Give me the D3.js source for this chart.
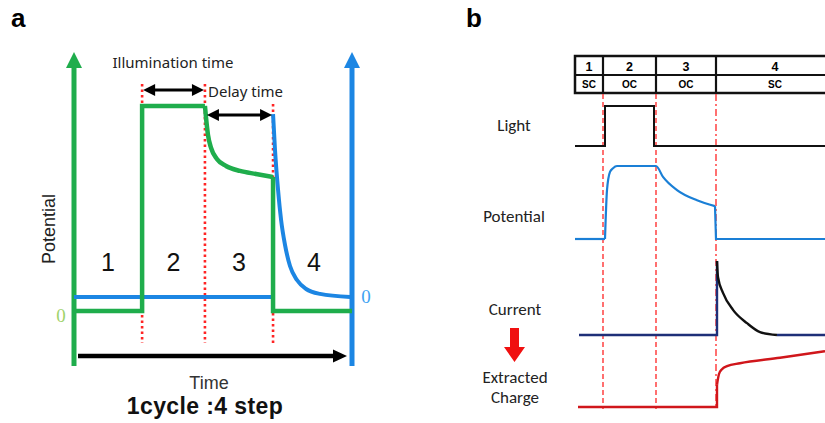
<!DOCTYPE html>
<html>
<head>
<meta charset="utf-8">
<script src="https://cdn.jsdelivr.net/npm/d3@7"></script>
<style>
  html, body { margin: 0; padding: 0; background: #fff; }
  svg { display: block; }
</style>
</head>
<body>
<svg id="fig" width="825" height="423"></svg>
<script>
// ---------- Panel a: one measurement cycle (time 0–100, potential in % of full scale) ----------
const stepLabels = ["1", "2", "3", "4"];
const cycleBounds = [24.5, 47.1, 71.6];          // ends of steps 1–3
const greenSteps = [[0, 0], [24.5, 0], [24.5, 79.5], [47.1, 79.5]];
const greenDecay = [[47.1, 79.5], [47.5, 74.8], [48.2, 68.2], [49.3, 63.2], [51.4, 58.9],
                    [54.7, 56.2], [59.7, 54.3], [65.5, 53.1], [71.6, 51.9]];
const greenTail = [[71.6, 51.9], [71.6, 0], [100, 0]];
const blueFlat = [[0, 0], [71.6, 0]];
const blueDecay = [[71.6, 70.9], [72.3, 57], [73.4, 41.5], [74.5, 29.8], [75.9, 20.2],
                   [77.7, 12], [80.2, 6.6], [83.5, 3.1], [88.5, 1.2], [99.3, 0]];

// ---------- Panel b: timing diagram (time 0–100, each trace normalised 0–1) ----------
const phaseBounds = [11.2, 32.4, 56.4];
const phaseNumbers = ["1", "2", "3", "4"];
const phaseModes = ["SC", "OC", "OC", "SC"];
const lightTrace = [[0, 0], [12, 0], [12, 1], [31.6, 1], [31.6, 0], [100, 0]];
const potBase = [[0, 0], [12, 0]];
const potCurve = [[12, 0], [12.8, 0.67], [14, 0.92], [15.2, 0.97], [16.8, 1], [32.4, 1],
                  [35.2, 0.85], [40.8, 0.67], [48.8, 0.53], [56, 0.45]];
const potTail = [[56, 0.45], [56.4, 0], [100, 0]];
const currentBase = [[1.6, 0], [56.8, 0], [56.8, 1]];
const currentDecay = [[56.8, 1], [57.2, 0.78], [59.2, 0.57], [63.2, 0.34], [68.8, 0.16],
                      [74, 0.04], [80.8, 0]];
const currentTail = [[80.8, 0], [100, 0]];
const chargeBase = [[1.2, 0], [56.8, 0], [56.8, 0.37]];
const chargeRise = [[56.8, 0.37], [57.6, 0.55], [58.8, 0.63], [60.8, 0.68], [66, 0.73],
                    [82, 0.82], [100, 0.93]];

const svg = d3.select("#fig");
const SANS = "Arial, 'Liberation Sans', sans-serif";
const GREEN = "#1fad4c", BLUE = "#1c86e3", RED = "#ff2424";

function trace(g, pts, x, y, curve, color, width) {
  g.append("path")
    .attr("d", d3.line().x(d => x(d[0])).y(d => y(d[1])).curve(curve)(pts))
    .attr("fill", "none").attr("stroke", color).attr("stroke-width", width)
    .attr("stroke-linejoin", "miter").attr("stroke-linecap", "butt");
}

// ===================== Panel a =====================
const a = svg.append("g");
const xA = d3.scaleLinear([0, 100], [74, 352]);
const yG = d3.scaleLinear([0, 100], [311, 53]);
const yBl = d3.scaleLinear([0, 100], [297, 39]);

a.append("text").attr("x", 11).attr("y", 27).text("a")
  .attr("font-family", SANS).attr("font-weight", "bold").attr("font-size", 26);

// step boundaries (red dotted)
const dotTops = [84, 84, 104];
cycleBounds.forEach((t, i) => {
  a.append("line").attr("x1", xA(t)).attr("x2", xA(t)).attr("y1", dotTops[i]).attr("y2", 343)
    .attr("stroke", RED).attr("stroke-width", 2.6).attr("stroke-dasharray", "2.5,3");
});

// vertical axes with arrow heads
function vArrow(x, color) {
  a.append("line").attr("x1", x).attr("x2", x).attr("y1", 66).attr("y2", 366)
    .attr("stroke", color).attr("stroke-width", 5);
  a.append("path").attr("d", `M${x - 8},68 L${x},52 L${x + 8},68 Z`).attr("fill", color);
}
vArrow(xA(0), GREEN);
vArrow(xA(100), BLUE);

// potential traces
trace(a, blueFlat, xA, yBl, d3.curveLinear, BLUE, 4);
trace(a, blueDecay, xA, yBl, d3.curveMonotoneX, BLUE, 4);
trace(a, greenSteps, xA, yG, d3.curveLinear, GREEN, 4.5);
trace(a, greenDecay, xA, yG, d3.curveMonotoneX, GREEN, 4.5);
trace(a, greenTail, xA, yG, d3.curveLinear, GREEN, 4.5);

// zero markers
a.append("text").attr("x", 61).attr("y", 322).attr("text-anchor", "middle").text("0")
  .attr("font-family", "'Liberation Serif', 'DejaVu Serif', serif").attr("font-size", 19).attr("fill", "#9fd36c");
a.append("text").attr("x", 366).attr("y", 303).attr("text-anchor", "middle").text("0")
  .attr("font-family", "'Liberation Serif', 'DejaVu Serif', serif").attr("font-size", 19).attr("fill", "#3ea2f2");

// double-headed arrows
function dArrow(x1, x2, y) {
  a.append("line").attr("x1", x1 + 8).attr("x2", x2 - 8).attr("y1", y).attr("y2", y)
    .attr("stroke", "#000").attr("stroke-width", 3.2);
  a.append("path").attr("d", `M${x1},${y} L${x1 + 12},${y - 6} L${x1 + 12},${y + 6} Z`).attr("fill", "#000");
  a.append("path").attr("d", `M${x2},${y} L${x2 - 12},${y - 6} L${x2 - 12},${y + 6} Z`).attr("fill", "#000");
}
dArrow(xA(cycleBounds[0]) + 1, xA(cycleBounds[1]) - 1, 90);
dArrow(xA(cycleBounds[1]) + 2, xA(cycleBounds[2]) - 1, 115);

a.append("text").attr("x", 173).attr("y", 68).attr("text-anchor", "middle").text("Illumination time")
  .attr("font-family", "'Noto Sans', sans-serif").attr("font-size", 15).attr("fill", "#222");
a.append("text").attr("x", 208).attr("y", 97).text("Delay time")
  .attr("font-family", "'Noto Sans', sans-serif").attr("font-size", 15).attr("fill", "#222");

// step numbers
const stepEdges = [0, ...cycleBounds, 100];
stepLabels.forEach((s, i) => {
  const cx = i === 3 ? 314 : (xA(stepEdges[i]) + xA(stepEdges[i + 1])) / 2;
  a.append("text").attr("x", cx).attr("y", 271).attr("text-anchor", "middle").text(s)
    .attr("font-family", SANS).attr("font-size", 25).attr("fill", "#111");
});

// time arrow
a.append("line").attr("x1", 78).attr("x2", 335).attr("y1", 356).attr("y2", 356)
  .attr("stroke", "#000").attr("stroke-width", 4.5);
a.append("path").attr("d", "M333,349.5 L347,356 L333,362.5 Z").attr("fill", "#000");

a.append("text").attr("transform", "translate(55,229) rotate(-90)").attr("text-anchor", "middle")
  .text("Potential").attr("font-family", SANS).attr("font-size", 18).attr("fill", "#222");
a.append("text").attr("x", 209).attr("y", 389).attr("text-anchor", "middle").text("Time")
  .attr("font-family", SANS).attr("font-size", 18).attr("fill", "#333");
a.append("text").attr("x", 205).attr("y", 414).attr("text-anchor", "middle").text("1cycle :4 step")
  .attr("font-family", SANS).attr("font-weight", "bold").attr("font-size", 23).attr("fill", "#111")
  .attr("letter-spacing", 0.4);

// ===================== Panel b =====================
const b = svg.append("g");
const xB = d3.scaleLinear([0, 100], [575, 825]);

b.append("text").attr("x", 466).attr("y", 27).text("b")
  .attr("font-family", SANS).attr("font-weight", "bold").attr("font-size", 26);

// phase table
const colEdges = [0, ...phaseBounds, 102];
b.append("rect").attr("x", xB(0)).attr("y", 56).attr("width", 260).attr("height", 37)
  .attr("fill", "none").attr("stroke", "#111").attr("stroke-width", 2.5);
b.append("line").attr("x1", xB(0)).attr("x2", 830).attr("y1", 75).attr("y2", 75)
  .attr("stroke", "#111").attr("stroke-width", 2);
phaseBounds.forEach(t => {
  b.append("line").attr("x1", xB(t)).attr("x2", xB(t)).attr("y1", 56).attr("y2", 93)
    .attr("stroke", "#111").attr("stroke-width", 2.2);
});
phaseNumbers.forEach((s, i) => {
  const cx = i === 3 ? 775 : (xB(colEdges[i]) + xB(colEdges[i + 1])) / 2;
  b.append("text").attr("x", cx).attr("y", 71).attr("text-anchor", "middle").text(s)
    .attr("font-family", SANS).attr("font-weight", "bold").attr("font-size", 12.5);
  b.append("text").attr("x", cx).attr("y", 88).attr("text-anchor", "middle").text(phaseModes[i])
    .attr("font-family", SANS).attr("font-weight", "bold").attr("font-size", 10);
});

// phase boundaries
const dashes = ["5,3", "5,3", "7,3,2,3"];
phaseBounds.forEach((t, i) => {
  b.append("line").attr("x1", xB(t)).attr("x2", xB(t)).attr("y1", 94).attr("y2", 409)
    .attr("stroke", RED).attr("stroke-width", 1.3).attr("stroke-dasharray", dashes[i]);
});

// traces
const yLight = d3.scaleLinear([0, 1], [146, 106]);
const yPot = d3.scaleLinear([0, 1], [239, 166]);
const yCur = d3.scaleLinear([0, 1], [335, 261]);
const yChg = d3.scaleLinear([0, 1], [407, 347]);

trace(b, lightTrace, xB, yLight, d3.curveLinear, "#111", 2);
trace(b, potBase, xB, yPot, d3.curveLinear, "#1a7fd6", 2.2);
trace(b, potCurve, xB, yPot, d3.curveMonotoneX, "#1a7fd6", 2.2);
trace(b, potTail, xB, yPot, d3.curveLinear, "#1a7fd6", 2.2);
trace(b, currentBase, xB, yCur, d3.curveLinear, "#1e2f78", 2.4);
trace(b, currentDecay, xB, yCur, d3.curveMonotoneX, "#111", 2.4);
trace(b, currentTail, xB, yCur, d3.curveLinear, "#1e2f78", 2.4);
trace(b, chargeBase, xB, yChg, d3.curveLinear, "#d0161b", 2.4);
trace(b, chargeRise, xB, yChg, d3.curveMonotoneX, "#d0161b", 2.4);

// row labels
const LBL = "Carlito, 'Open Sans', 'Noto Sans', sans-serif";
[["Light", 514, 131], ["Potential", 514, 222], ["Current", 515, 315],
 ["Extracted", 515, 383], ["Charge", 515, 403]].forEach(([t, x, y]) => {
  b.append("text").attr("x", x).attr("y", y).attr("text-anchor", "middle").text(t)
    .attr("font-family", LBL).attr("font-size", 17).attr("fill", "#222");
});

// red downward arrow between Current and Extracted Charge
b.append("path").attr("d", "M510,328 L519,328 L519,347 L525,347 L514.5,362 L504,347 L510,347 Z")
  .attr("fill", "#f01010");
</script>
</body>
</html>
